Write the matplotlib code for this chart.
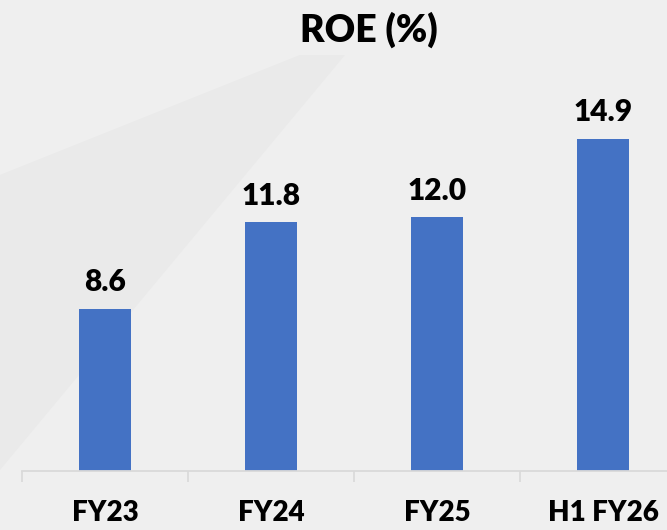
import matplotlib
matplotlib.use("Agg")
import matplotlib.pyplot as plt
from matplotlib.patches import Polygon

# data
categories = ["FY23", "FY24", "FY25", "H1 FY26"]
roe = [8.6, 11.8, 12.0, 14.9]
value_labels = ["8.6", "11.8", "12.0", "14.9"]

plt.rcParams['font.family'] = ['Lato', 'DejaVu Sans']

W, H = 667, 530
fig = plt.figure(figsize=(W / 100, H / 100), dpi=100)
fig.patch.set_facecolor("#efefef")

# faint background shape
shape = Polygon([(0 / W, 1 - 175 / H), (300 / W, 1 - 55 / H), (345 / W, 1 - 55 / H), (0 / W, 1 - 470 / H)],
                closed=True, transform=fig.transFigure, facecolor="#eaeaea", edgecolor="none", zorder=-5)
fig.patches.append(shape)

# axes spans 22..686 px horizontally (cropped on right), baseline at 471 px
ax = fig.add_axes([22 / W, (H - 471) / H, 664 / W, 389 / H])
ax.set_facecolor("none")

x = range(len(categories))
bars = ax.bar(x, roe, width=0.31, color="#4472C4", zorder=2)
ax.set_xlim(-0.5, 3.5)
ax.set_ylim(2.6, 17)

for b, lab in zip(bars, value_labels):
    ax.annotate(lab, (b.get_x() + b.get_width() / 2, b.get_height()),
                xytext=(0, 9), textcoords="offset points",
                ha="center", va="bottom", fontsize=21.5, fontweight="heavy", color="black")

ax.set_xticks(list(x))
ax.set_xticklabels(categories, fontsize=20, fontweight="heavy")
ax.set_xticks([-0.5, 0.5, 1.5, 2.5, 3.5], minor=True)
ax.tick_params(axis="x", which="major", length=0, pad=21)
ax.tick_params(axis="x", which="minor", length=8, width=1.2, color="#d9d9d9")
ax.set_yticks([])

for s in ["top", "right", "left"]:
    ax.spines[s].set_visible(False)
ax.spines["bottom"].set_color("#d9d9d9")
ax.spines["bottom"].set_linewidth(1.3)

fig.text(369 / W, 1 - 42 / H, "ROE (%)", ha="center", va="baseline",
         fontsize=27, fontweight="heavy", color="black")

fig.savefig("out.png", dpi=100, facecolor=fig.get_facecolor())
